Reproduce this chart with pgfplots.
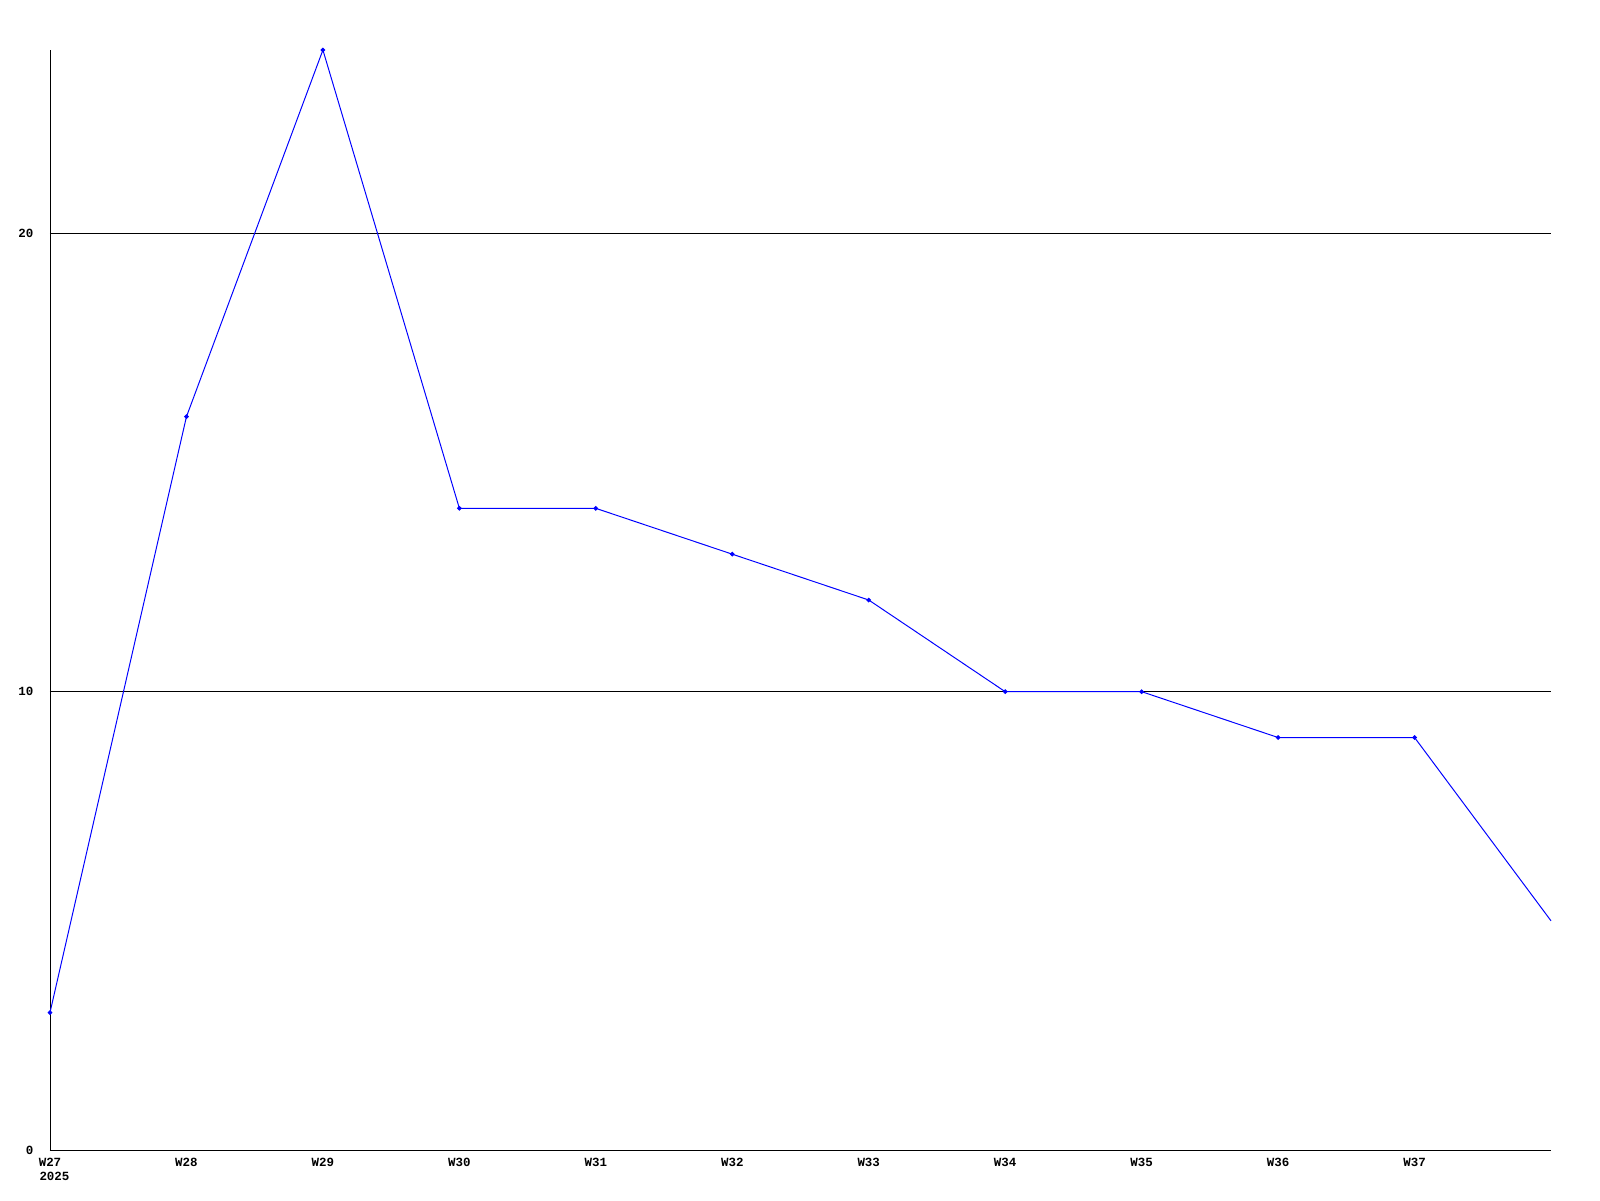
\documentclass[border=0pt]{standalone}
\usepackage{fontspec}
\setmainfont{Liberation Mono}
\usepackage{pgfplots}
\pgfplotsset{compat=1.18}
\definecolor{lineblue}{RGB}{0,0,255}

\begin{document}
\begin{tikzpicture}
\begin{axis}[
    name=main,
    scale only axis,
    width=150.1mm, height=110mm,
    xmin=27, xmax=38, ymin=0, ymax=24,
    axis x line=bottom, axis y line=left,
    axis line style={-, black, line width=0.28pt},
    xtick={27,...,37},
    xticklabels={W27,W28,W29,W30,W31,W32,W33,W34,W35,W36,W37},
    ytick={0,10,20},
    major tick length=0pt,
    ymajorgrids, grid style={black, line width=0.28pt},
    /pgf/number format/assume math mode=true,
    ticklabel style={font=\fontsize{3.55}{4.3}\selectfont\bfseries, inner sep=0pt},
    xticklabel style={anchor=north, yshift=-0.75mm},
    yticklabel style={anchor=east, xshift=-1.6mm},
    clip=false,
]
\addplot[lineblue, line width=0.28pt, mark=*, mark size=0.18mm, mark indices={1,...,11}] coordinates {
    (27,3) (28,16) (29,24) (30,14) (31,14) (32,13)
    (33,12) (34,10) (35,10) (36,9) (37,9) (38,5)
};
\node[anchor=base west, inner sep=0pt, font=\fontsize{3.55}{4.3}\selectfont\bfseries]
    at ([xshift=-1.12mm, yshift=-3.05mm]axis cs:27,0) {2025};
\end{axis}
\path ([xshift=-5mm, yshift=-5mm]main.south west) rectangle ([xshift=4.9mm, yshift=5mm]main.north east);
\end{tikzpicture}
\end{document}
